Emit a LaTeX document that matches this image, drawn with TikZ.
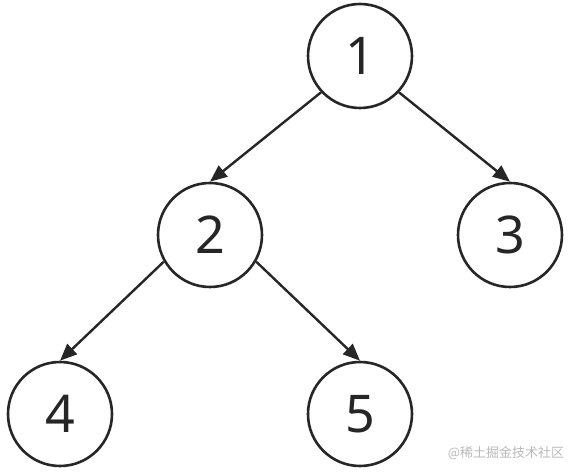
\documentclass[tikz,border=0pt]{standalone}
\usepackage{fontspec}
\setmainfont{Noto Sans}
\newfontfamily\cjk{Noto Sans CJK SC}
\usetikzlibrary{positioning,arrows.meta}
\definecolor{ink}{RGB}{38,38,38}
\definecolor{mark}{RGB}{185,185,185}
\tikzset{
  vert/.style={circle,draw=ink,line width=2.6pt,minimum size=104pt,inner sep=0pt,font=\fontsize{52}{56}\selectfont,text=ink},
  edge/.style={draw=ink,line width=2.4pt,-{Triangle[length=17pt,width=14pt]}},
}

\begin{document}
\begin{tikzpicture}[x=1pt,y=1pt,node distance=179pt and 150pt,on grid]
    \useasboundingbox (0,0) rectangle (574,474);
    \node[vert] (n1) at (360,418) {1};
    \node[vert,below left=of n1] (n2) {2};
    \node[vert,below right=of n1] (n3) {3};
    \node[vert,below left=of n2] (n4) {4};
    \node[vert,below right=of n2] (n5) {5};
    \draw[edge] (n1.-137)--(n2.north);
    \draw[edge] (n1.-43)--(n3.north);
    \draw[edge] (n2.-150)--(n4.north);
    \draw[edge] (n2.-30)--(n5.north);
    % watermark
    \node[text=mark,font=\cjk\fontsize{13}{15}\selectfont,inner sep=0pt] (wm) at (506,21) {@稀土掘金技术社区};
  \end{tikzpicture}
\end{document}
